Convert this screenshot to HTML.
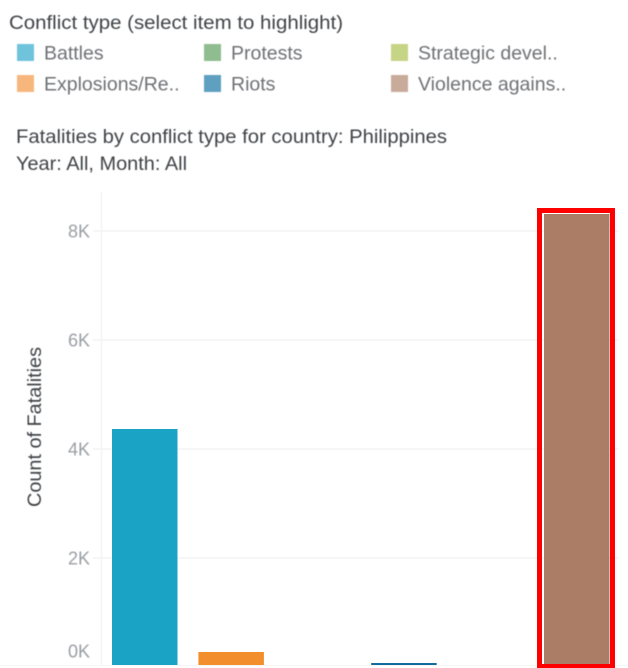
<!DOCTYPE html>
<html lang="en">
<head>
<meta charset="utf-8">
<title>Fatalities by conflict type</title>
<style>
  html, body { margin: 0; padding: 0; background: #fff; }
  #wrap { position: relative; width: 628px; height: 668px; overflow: hidden; }
  svg { display: block; font-family: "Liberation Sans", sans-serif; }
  .soft { filter: blur(0.5px); }
</style>
</head>
<body>
<div id="wrap">
<svg id="chart" width="628" height="668" viewBox="0 0 628 668">
  <rect x="0" y="0" width="628" height="668" fill="#ffffff"/>
  <g class="soft">
    <text x="9" y="29" font-size="19.5" fill="#3f4246" textLength="334" lengthAdjust="spacingAndGlyphs">Conflict type (select item to highlight)</text>
    <text x="16" y="143" font-size="19.5" fill="#3f4246" textLength="431" lengthAdjust="spacingAndGlyphs">Fatalities by conflict type for country: Philippines</text>
    <text x="16" y="170" font-size="19.5" fill="#3f4246" textLength="171" lengthAdjust="spacingAndGlyphs">Year: All, Month: All</text>
  </g>
  <g id="legend" class="soft"></g>
  <g id="grid"></g>
  <g id="bars"></g>
  <g id="ticks" class="soft"></g>
  <text class="soft" transform="translate(41,507) rotate(-90)" font-size="19" fill="#3f4246" textLength="160" lengthAdjust="spacingAndGlyphs">Count of Fatalities</text>
  <rect x="539.5" y="210.5" width="73" height="456" fill="none" stroke="#ff0000" stroke-width="5"/>
</svg>
</div>
<script>
const categories = ['Battles', 'Explosions/Remote violence', 'Protests', 'Riots', 'Strategic developments', 'Violence against civilians'];
const legendLabels = ['Battles', 'Explosions/Re..', 'Protests', 'Riots', 'Strategic devel..', 'Violence agains..'];
const fatalities = [4367, 275, 0, 73, 0, 8312];
const barColors = ['#1ba3c6', '#f28e2b', '#59a14f', '#0f6b9e', '#a5bd3c', '#ab7d67'];
const swatchColors = ['#6fc4dc', '#f7b77c', '#8fbd90', '#5f9fbf', '#c6d485', '#c9ab9c'];
const tickValues = [0, 2000, 4000, 6000, 8000];
const tickLabels = ['0K', '2K', '4K', '6K', '8K'];

const NS = 'http://www.w3.org/2000/svg';
const plotLeft = 102, plotRight = 619, plotBottom = 665;
function yScale(v) { return 667 - v * 109 / 2000; }
function xBand(i) { return 112 + i * 86.4; }
const bandWidth = 65.5;

function make(tag, attrs, parent) {
  const el = document.createElementNS(NS, tag);
  for (const k in attrs) el.setAttribute(k, attrs[k]);
  parent.appendChild(el);
  return el;
}

const gridGroup = document.getElementById('grid');
const baseLine = make('line', { x1: plotLeft - 0.5, x2: plotLeft - 0.5, y1: 192, y2: plotBottom, stroke: '#f4f4f4', 'stroke-width': 1.5 }, gridGroup);


const zeroLine = make('line', { x1: 0, x2: 628, y1: 665.5, y2: 665.5, stroke: '#f6f6f6', 'stroke-width': 1 }, gridGroup);



const tickGroup = document.getElementById('ticks');
tickValues.forEach(function (v, i) {
  const y = yScale(v);
  if (v > 0) {
    const g = make('line', { x1: 93, x2: plotRight, y1: y, y2: y, stroke: '#f4f4f4', 'stroke-width': 1.5 }, gridGroup);
    
    
  }
  const t = make('text', { x: 90, y: Math.min(y, 651) + 6.5, 'text-anchor': 'end', 'font-size': 18, fill: '#9a9da3' }, tickGroup);
  t.textContent = tickLabels[i];
  
  
});

const barGroup = document.getElementById('bars');
fatalities.forEach(function (v, i) {
  const top = yScale(v);
  const h = Math.max(0, plotBottom - top);
  const b = make('rect', { x: xBand(i), y: top, width: bandWidth, height: h, fill: barColors[i] }, barGroup);
  
  
});

const legendGroup = document.getElementById('legend');
const legendCols = [17, 204, 391];
const legendRows = [44, 75];
legendLabels.forEach(function (label, i) {
  const col = legendCols[Math.floor(i / 2)];
  const row = legendRows[i % 2];
  const s = make('rect', { x: col, y: row, width: 17, height: 17, fill: swatchColors[i] }, legendGroup);
  
  
  const t = make('text', { x: col + 27, y: row + 15.5, 'font-size': 19.5, fill: '#6f7175' }, legendGroup);
  t.textContent = label;
  
  
});
</script>
</body>
</html>
